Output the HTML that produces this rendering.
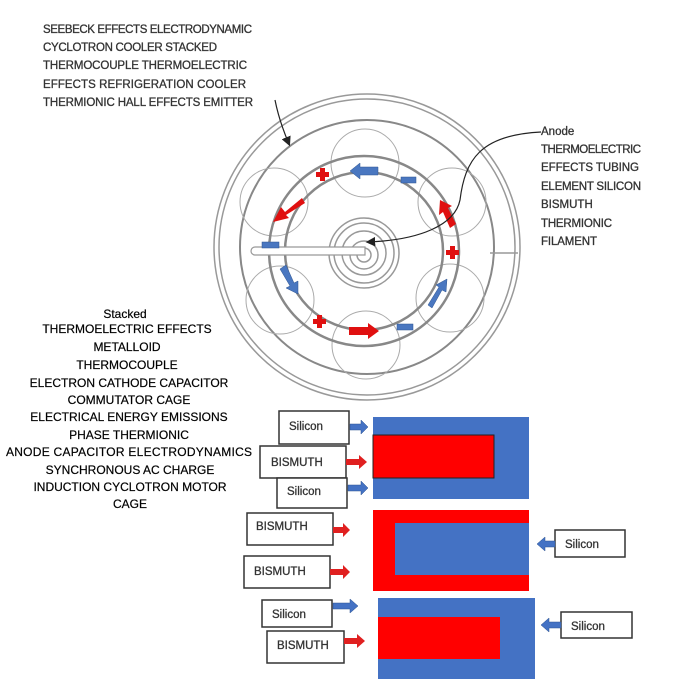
<!DOCTYPE html>
<html><head><meta charset="utf-8"><style>
html,body{margin:0;padding:0;background:#fff;width:700px;height:700px;overflow:hidden}
svg{display:block}
text{font-family:"Liberation Sans",sans-serif;}
</style></head><body>
<svg width="700" height="700" viewBox="0 0 700 700" xmlns="http://www.w3.org/2000/svg">
<defs>
<marker id="ah" markerWidth="8" markerHeight="8" refX="6" refY="4" orient="auto"><path d="M0,0 L8,4 L0,8 z" fill="#222"/></marker>
</defs>
<g font-size="11.5" fill="#333" stroke="#333" stroke-width="0.3">
<text x="43" y="33" textLength="209">SEEBECK EFFECTS ELECTRODYNAMIC</text>
<text x="43" y="51" textLength="174">CYCLOTRON COOLER STACKED</text>
<text x="43" y="69" textLength="204">THERMOCOUPLE THERMOELECTRIC</text>
<text x="43" y="88" textLength="203">EFFECTS REFRIGERATION COOLER</text>
<text x="43" y="106" textLength="210">THERMIONIC HALL EFFECTS EMITTER</text>
<text x="541" y="135">Anode</text>
<text x="541" y="153" textLength="100">THERMOELECTRIC</text>
<text x="541" y="171" textLength="98">EFFECTS TUBING</text>
<text x="541" y="190" textLength="100">ELEMENT SILICON</text>
<text x="541" y="208">BISMUTH</text>
<text x="541" y="227" textLength="71">THERMIONIC</text>
<text x="541" y="245" textLength="56">FILAMENT</text>
</g>
<g font-size="12" fill="#000" text-anchor="middle" stroke="#000" stroke-width="0.2">
<text x="125" y="318">Stacked</text>
<text x="127" y="333">THERMOELECTRIC EFFECTS</text>
<text x="127" y="351">METALLOID</text>
<text x="127" y="369">THERMOCOUPLE</text>
<text x="129" y="387">ELECTRON CATHODE CAPACITOR</text>
<text x="129" y="404">COMMUTATOR CAGE</text>
<text x="129" y="421">ELECTRICAL ENERGY EMISSIONS</text>
<text x="129" y="439">PHASE THERMIONIC</text>
<text x="129" y="456" textLength="246">ANODE CAPACITOR  ELECTRODYNAMICS</text>
<text x="130" y="474">SYNCHRONOUS AC CHARGE</text>
<text x="130" y="491">INDUCTION CYCLOTRON  MOTOR</text>
<text x="130" y="508">CAGE</text>
</g>
<g fill="none" stroke="#999" stroke-width="1.5">
<circle cx="367" cy="247" r="153"/>
<circle cx="367" cy="247" r="148"/>
<circle cx="367" cy="247" r="127" stroke="#888" stroke-width="2"/>
<g stroke="#aaa" stroke-width="1">
<circle cx="365" cy="163" r="34"/><circle cx="452" cy="202" r="34"/><circle cx="274" cy="202" r="34"/>
<circle cx="280" cy="300" r="34"/><circle cx="366" cy="345" r="34"/><circle cx="450" cy="298" r="34"/>
</g>
<circle cx="364" cy="251" r="95" stroke="#888" stroke-width="2.5"/>
<circle cx="364" cy="251" r="79" stroke="#888" stroke-width="2.5"/>
<circle cx="364" cy="253" r="35"/><circle cx="364" cy="253" r="30"/>
<circle cx="364" cy="253" r="22"/><circle cx="364" cy="255" r="14"/><circle cx="364" cy="255" r="7"/>
<line x1="490" y1="253" x2="518" y2="253"/>
</g>
<g fill="#fff" stroke="#999" stroke-width="1.2">
<path d="M255,247 L365,247 L365,255 L255,255 a4,4 0 0 1 0,-8z"/>
</g>
<g fill="#e01010">
<rect x="316" y="172" width="13" height="5"/><rect x="320" y="168" width="5" height="13"/>
<rect x="446" y="250" width="13" height="5"/><rect x="450" y="246" width="5" height="13"/>
<rect x="313" y="319" width="13" height="5"/><rect x="317" y="315" width="5" height="13"/>
<path d="M302,198 L285,212 L281,207 L273,222 L289,218 L286,215 L305,203z"/>
<path d="M456,224 L448,208 L452,206 L440,200 L439,215 L443,212 L450,228z"/>
<path d="M349,327 L368,327 L368,323 L379,331 L368,339 L368,335 L349,335z"/>
</g>
<g fill="#4a77c0" stroke="#2f5590" stroke-width="0.5">
<path d="M378,167 L360,167 L360,163 L350,171 L360,179 L360,175 L378,175z"/>
<rect x="401" y="177" width="15" height="6"/>
<rect x="262" y="242" width="17" height="6"/>
<path d="M280,269 L290,286 L286,288 L298,294 L298,281 L294,283 L286,265z"/>
<path d="M432,308 L442,290 L446,292 L447,279 L436,285 L439,287 L428,305z"/>
<rect x="397" y="324" width="16" height="6"/>
</g>
<path d="M275,100 C278,115 283,130 289,144" fill="none" stroke="#222" stroke-width="1.2" marker-end="url(#ah)"/>
<path d="M541,132 C480,135 465,160 460,200 C455,225 420,240 368,242" fill="none" stroke="#222" stroke-width="1.2" marker-end="url(#ah)"/>
<rect x="373" y="417" width="156" height="82" fill="#4472c4"/>
<rect x="373" y="435" width="121" height="43" fill="#ff0000" stroke="#222" stroke-width="1"/>
<rect x="373" y="510" width="156" height="81" fill="#ff0000"/>
<rect x="395" y="523" width="134" height="52" fill="#4472c4"/>
<rect x="378" y="598" width="157" height="81" fill="#4472c4"/>
<rect x="378" y="617" width="122" height="42" fill="#ff0000"/>
<g fill="#fff" stroke="#333" stroke-width="1.5">
<rect x="279" y="411" width="70" height="33"/>
<rect x="260" y="446" width="86" height="32"/>
<rect x="277" y="478" width="70" height="30"/>
<rect x="247" y="513" width="86" height="32"/>
<rect x="244" y="556" width="86" height="32"/>
<rect x="262" y="600" width="70" height="27"/>
<rect x="267" y="631" width="77" height="32"/>
<rect x="555" y="530" width="70" height="27"/>
<rect x="561" y="612" width="71" height="26"/>
</g>
<g font-size="11.5" fill="#333" stroke="#333" stroke-width="0.3">
<text x="289" y="430">Silicon</text>
<text x="271" y="466">BISMUTH</text>
<text x="287" y="495">Silicon</text>
<text x="256" y="530">BISMUTH</text>
<text x="254" y="575">BISMUTH</text>
<text x="272" y="618">Silicon</text>
<text x="277" y="649">BISMUTH</text>
<text x="565" y="548">Silicon</text>
<text x="571" y="630">Silicon</text>
</g>
<g fill="#4472c4" stroke="#2f5590" stroke-width="0.5">
<path d="M350,424 L361,424 L361,420 L368,427 L361,434 L361,430 L350,430z"/>
<path d="M348,485 L361,485 L361,481 L368,488 L361,495 L361,491 L348,491z"/>
<path d="M333,603 L350,603 L350,599 L358,606 L350,613 L350,609 L333,609z"/>
<path d="M555,541 L545,541 L545,537 L537,544 L545,551 L545,547 L555,547z"/>
<path d="M561,622 L549,622 L549,618 L541,625 L549,632 L549,628 L561,628z"/>
</g>
<g fill="#e02020">
<path d="M346,459 L359,459 L359,455 L367,462 L359,469 L359,465 L346,465z"/>
<path d="M333,527 L343,527 L343,523 L350,530 L343,537 L343,533 L333,533z"/>
<path d="M330,569 L343,569 L343,565 L350,572 L343,579 L343,575 L330,575z"/>
<path d="M344,638 L357,638 L357,634 L365,641 L357,648 L357,644 L344,644z"/>
</g>
</svg>
</body></html>
